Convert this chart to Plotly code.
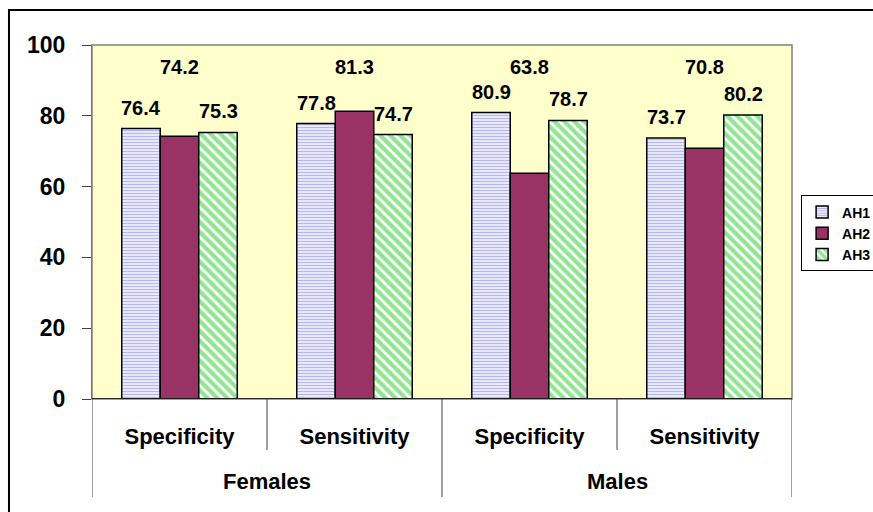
import plotly.graph_objects as go

groups = ["Females", "Females", "Males", "Males"]
measures = ["Specificity", "Sensitivity", "Specificity", "Sensitivity"]
series_names = ["AH1", "AH2", "AH3"]
ah1 = [76.4, 77.8, 80.9, 73.7]
ah2 = [74.2, 81.3, 63.8, 70.8]
ah3 = [75.3, 74.7, 78.7, 80.2]
y_ticks = [0, 20, 40, 60, 80, 100]

FONT = "Liberation Sans, Arial, sans-serif"
xs = list(range(len(measures)))

styles = [
    dict(color="white", pattern=dict(shape="-", fgcolor="#6E6EF5", bgcolor="white", size=3, solidity=0.55)),
    dict(color="#993366"),
    dict(color="white", pattern=dict(shape="\\", fgcolor="#22CC22", bgcolor="white", size=7, solidity=0.6)),
]

fig = go.Figure()
for name, vals, st in zip(series_names, [ah1, ah2, ah3], styles):
    fig.add_trace(go.Bar(
        name=name, x=xs, y=vals,
        marker=dict(line=dict(color="black", width=1.5), **st),
        hoverinfo="skip",
    ))

# data labels
annotations = []
offsets = [-1, 0, 1]
bw = (1 - 0.34) / 3
for si, vals in enumerate([ah1, ah2, ah3]):
    for i, v in enumerate(vals):
        xpos = xs[i] + offsets[si] * bw
        if si == 1:
            annotations.append(dict(x=xpos, y=93.8, xref="x", yref="y", text=f"{v:.1f}",
                                    showarrow=False, yanchor="middle",
                                    font=dict(family=FONT, size=20, color="black", weight="bold")))
        else:
            annotations.append(dict(x=xpos, y=v, xref="x", yref="y", text=f"{v:.1f}",
                                    showarrow=False, yanchor="middle", yshift=21,
                                    font=dict(family=FONT, size=20, color="black", weight="bold")))

# outer group labels
uniq = []
for g in groups:
    if g not in uniq:
        uniq.append(g)
for g in uniq:
    idx = [i for i, gg in enumerate(groups) if gg == g]
    annotations.append(dict(x=sum(idx) / len(idx), y=-0.234, xref="x", yref="paper", text=g,
                            showarrow=False, yanchor="middle",
                            font=dict(family=FONT, size=22, color="black", weight="bold")))

shapes = []
# outer chart frame
shapes.append(dict(type="rect", xref="paper", yref="paper", x0=-0.1186, x1=1.2, y0=-0.4, y1=1.0989,
                   line=dict(color="black", width=2), fillcolor="rgba(0,0,0,0)", layer="below"))
# plot border
shapes.append(dict(type="rect", xref="paper", yref="paper", x0=0, x1=1, y0=0, y1=1,
                   line=dict(color="#808080", width=1.5)))
# zero line
shapes.append(dict(type="line", xref="paper", yref="y", x0=0, x1=1, y0=0, y1=0,
                   line=dict(color="black", width=1.5)))
# dividers
for b in range(len(measures) + 1):
    xb = b - 0.5
    if b == 0 or b == len(measures) or groups[b - 1] != groups[b]:
        y0 = -0.277
    else:
        y0 = -0.144
    shapes.append(dict(type="line", xref="x", yref="paper", x0=xb, x1=xb, y0=0, y1=y0,
                       line=dict(color="#404040", width=1)))

fig.update_layout(
    width=873, height=512,
    margin=dict(l=92, r=81, t=45, b=113, autoexpand=False),
    paper_bgcolor="white",
    plot_bgcolor="#FFFFCC",
    barmode="group", bargap=0.34, bargroupgap=0,
    showlegend=True,
    legend=dict(x=1.013, y=0.575, xanchor="left", yanchor="top",
                bgcolor="white", bordercolor="black", borderwidth=1,
                font=dict(family=FONT, size=14, color="black", weight="bold"),
                tracegroupgap=0, itemwidth=30),
    xaxis=dict(range=[-0.5, 3.5], tickmode="array", tickvals=xs, ticktext=measures,
               showgrid=False, zeroline=False, showline=False, ticks="",
               ticklabelstandoff=22,
               tickfont=dict(family=FONT, size=22, color="black", weight="bold")),
    yaxis=dict(range=[0, 100], tickmode="array", tickvals=y_ticks,
               showgrid=False, zeroline=False, showline=True, linecolor="#606060", linewidth=1,
               ticks="outside", ticklen=9, tickcolor="#404040", ticklabelstandoff=12,
               tickfont=dict(family=FONT, size=23, color="black", weight="bold")),
    annotations=annotations,
    shapes=shapes,
)

fig.write_html("out.html", config={"displayModeBar": False},
               post_script="document.body.style.margin='0';document.body.style.overflow='hidden';")
